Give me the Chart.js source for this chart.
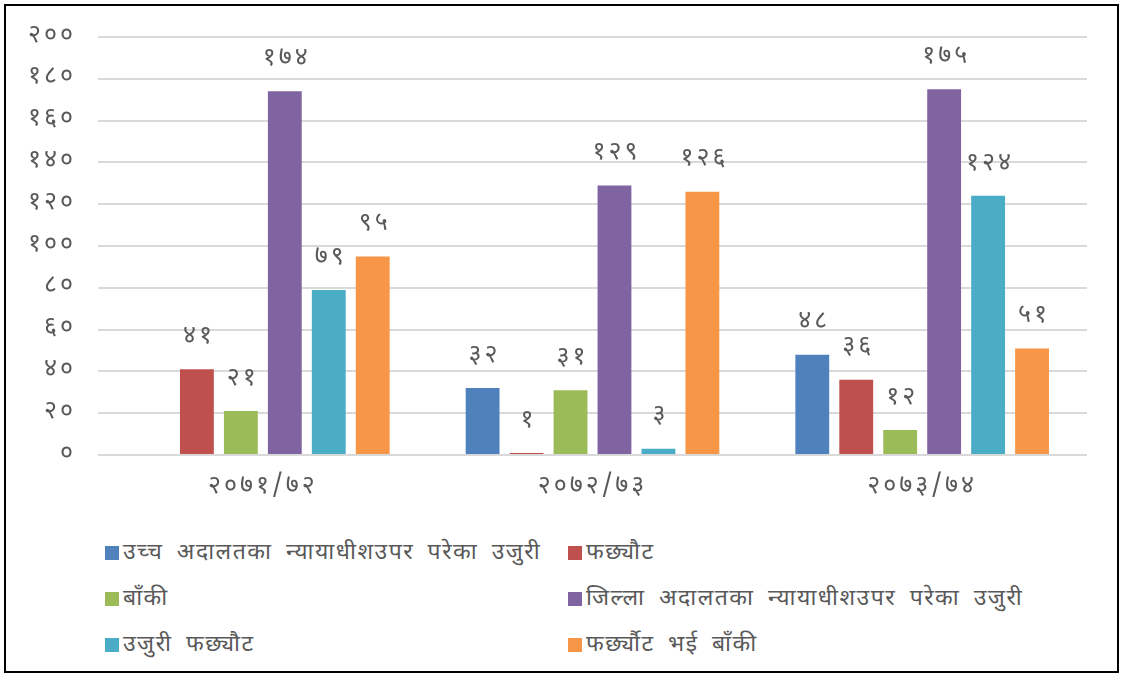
<!DOCTYPE html>
<html>
<head>
<meta charset="utf-8">
<script src="https://cdn.jsdelivr.net/npm/chart.js@4"></script>
<style>
  body { margin: 0; background: #fff; }
  #frame {
    position: absolute; left: 4px; top: 4px; width: 1111px; height: 665px;
    border: 2px solid #000; background: #fff;
  }
  #wrap { position: absolute; left: 0; top: 0; width: 1122px; height: 520px; }
  #legend {
    position: absolute; left: 105px; top: 538px; width: 1000px;
    display: grid; grid-template-columns: 463px 500px; row-gap: 16px;
    font-family: "Noto Sans Devanagari", "Noto Sans", "DejaVu Sans", sans-serif;
    font-size: 23px; color: #595959; letter-spacing: 1.5px; word-spacing: 6px;
  }
  .item { display: flex; align-items: center; height: 30px; white-space: nowrap; }
  .box { width: 14px; height: 14px; margin-right: 4px; flex: none; }
</style>
</head>
<body>
<div id="frame"></div>
<div id="wrap"><canvas id="chart"></canvas></div>
<div id="legend"></div>
<script>
const categories = ["2071/72", "2072/73", "2073/74"];
const seriesNames = [
  "उच्च अदालतका न्यायाधीशउपर परेका उजुरी",
  "फछ्यौट",
  "बाँकी",
  "जिल्ला अदालतका न्यायाधीशउपर परेका उजुरी",
  "उजुरी फछ्यौट",
  "फर्छ्यौट भई बाँकी"
];
const highCourtComplaints = [null, 32, 48];
const highCourtSettled = [41, 1, 36];
const highCourtRemaining = [21, 31, 12];
const districtComplaints = [174, 129, 175];
const districtSettled = [79, 3, 124];
const districtRemaining = [95, 126, 51];
const colors = ["#4F81BD", "#C0504D", "#9BBB59", "#8064A2", "#4BACC6", "#F79646"];

const seriesValues = [
  highCourtComplaints, highCourtSettled, highCourtRemaining,
  districtComplaints, districtSettled, districtRemaining
];

const devDigits = "०१२३४५६७८९";
const toDev = (v) => String(v).replace(/[0-9]/g, (d) => devDigits[+d]);

const fontFamily = '"Noto Sans Devanagari", "Noto Sans", "DejaVu Sans", sans-serif';
const textColor = "#595959";
const spacing = "3px";

// canvas letter spacing so the numerals spread out like the original
const spread = {
  id: "spread",
  beforeLayout(chart) { chart.ctx.letterSpacing = spacing; },
  beforeDraw(chart) { chart.ctx.letterSpacing = spacing; }
};

const valueLabels = {
  id: "valueLabels",
  afterDatasetsDraw(chart) {
    const ctx = chart.ctx;
    ctx.save();
    ctx.font = "25px " + fontFamily;
    ctx.fillStyle = textColor;
    ctx.textAlign = "center";
    ctx.textBaseline = "middle";
    chart.data.datasets.forEach((ds, i) => {
      const meta = chart.getDatasetMeta(i);
      meta.data.forEach((bar, j) => {
        const v = ds.data[j];
        if (v === null || v === undefined) return;
        ctx.fillText(toDev(v), bar.x + 2, bar.y - 31);
      });
    });
    ctx.restore();
  }
};

const chart = new Chart(document.getElementById("chart"), {
  type: "bar",
  data: {
    labels: categories,
    datasets: seriesValues.map((vals, i) => ({
      label: seriesNames[i],
      data: vals,
      backgroundColor: colors[i],
      barPercentage: 0.77,
      categoryPercentage: 0.8
    }))
  },
  options: {
    responsive: true,
    maintainAspectRatio: false,
    animation: false,
    layout: { padding: { top: 22, right: 35, left: 6, bottom: 7 } },
    plugins: {
      legend: { display: false },
      tooltip: { enabled: false }
    },
    scales: {
      x: {
        grid: { display: false },
        border: { display: false },
        ticks: {
          color: textColor,
          font: { family: fontFamily, size: 25 },
          padding: 10,
          callback: function (value) { return toDev(this.getLabelForValue(value)); }
        }
      },
      y: {
        min: 0,
        max: 200,
        grid: { color: "#d9d9d9", lineWidth: 2, drawTicks: false },
        border: { display: false },
        ticks: {
          stepSize: 20,
          color: textColor,
          font: { family: fontFamily, size: 25 },
          padding: 22,
          callback: (v) => toDev(v)
        }
      }
    }
  },
  plugins: [spread, valueLabels]
});

const legend = document.getElementById("legend");
chart.data.datasets.forEach((ds) => {
  const item = document.createElement("div");
  item.className = "item";
  const box = document.createElement("span");
  box.className = "box";
  box.style.background = ds.backgroundColor;
  const txt = document.createElement("span");
  txt.textContent = ds.label;
  item.appendChild(box);
  item.appendChild(txt);
  legend.appendChild(item);
});
</script>
</body>
</html>
